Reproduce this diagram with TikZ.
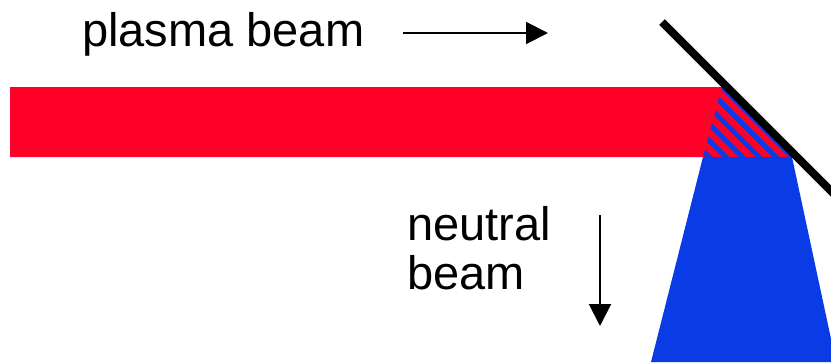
\documentclass[tikz,border=0pt]{standalone}
\usepackage{fontspec}
\setmainfont{Liberation Sans}
\usetikzlibrary{arrows.meta}
\definecolor{beamred}{RGB}{255,0,41}
\definecolor{beamblue}{RGB}{10,60,230}
\tikzset{
  label text/.style={inner sep=0pt, font=\fontsize{47}{49}\selectfont, align=left},
  beam arrow/.style={line width=2pt, -{Triangle[length=22pt,width=22pt]}},
}
\begin{document}
\begin{tikzpicture}[x=1pt,y=-1pt]
  \useasboundingbox (0,0) rectangle (831,362);
  \clip (0,0) rectangle (831,362);
  % 等离子体束与中性束
  \coordinate (M1) at (722,87);   % 镜面与束上沿交点
  \coordinate (M2) at (792,157);  % 镜面与束下沿交点
  \coordinate (L) at (703,157);
  \fill[beamred] (10,87) -- (M1) -- (M2) -- (10,157) -- cycle;
  \fill[beamblue] (L) -- (651,362) -- (836,362) -- (M2) -- cycle;
  \begin{scope}
    \clip (M1) -- (L) -- (M2) -- cycle;
    \foreach \c in {552,568.7,585.4,602.1,618.8,635.5}
      \draw[beamblue,line width=5pt] (660,660-\c) -- (820,820-\c);
  \end{scope}
  % 镜面
  \draw[line width=8pt] (662,22) -- (850,210);
  % 标注
  \node[label text,anchor=base west] (plasma) at (82,46) {plasma beam};
  \node[label text,anchor=north west] (neutral) at (407,206) {neutral\\beam};
  \coordinate (P1) at (403,33);
  \coordinate (P2) at (548,33);
  \coordinate (N1) at (600,215);
  \coordinate (N2) at (600,326);
  \draw[beam arrow] (P1) -- (P2);
  \draw[beam arrow] (N1) -- (N2);
\end{tikzpicture}
\end{document}
